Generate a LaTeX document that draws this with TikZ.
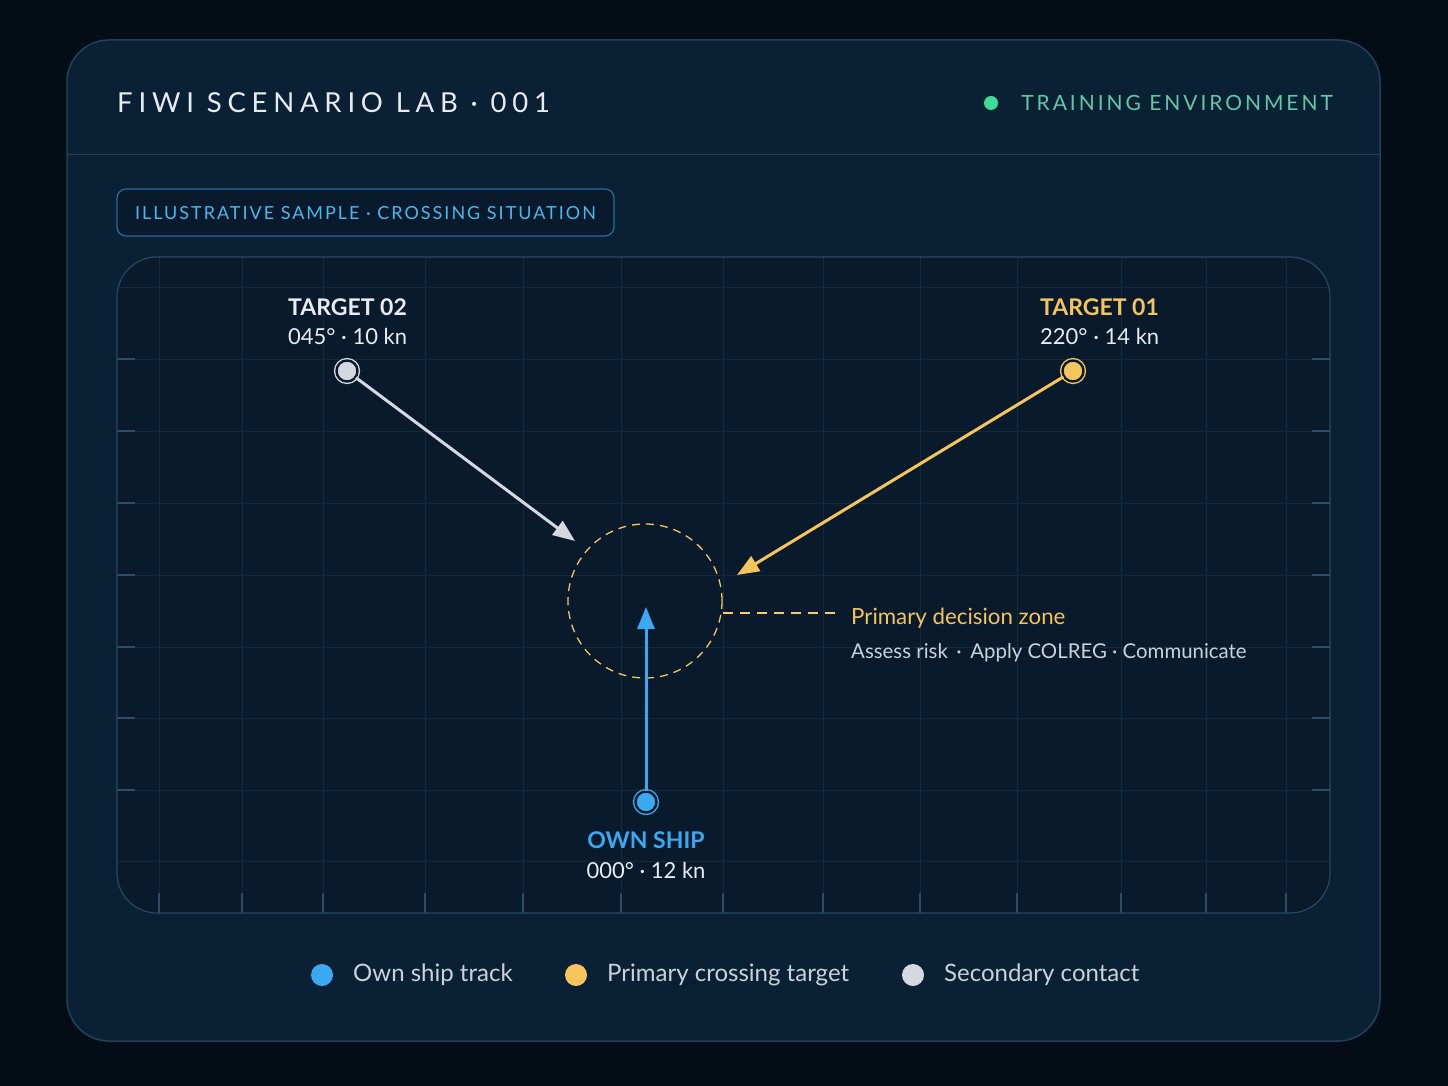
\documentclass[tikz,border=0pt]{standalone}
\usepackage{fontspec}
\setmainfont{Lato}
\usetikzlibrary{arrows.meta}

\definecolor{nightbg}{HTML}{040D16}
\definecolor{cardfill}{HTML}{0A2135}
\definecolor{cardline}{HTML}{21405A}
\definecolor{chartfill}{HTML}{081A2B}
\definecolor{chartline}{HTML}{284861}
\definecolor{gridline}{HTML}{13293D}
\definecolor{gridtick}{HTML}{2D4D66}
\definecolor{owncol}{HTML}{3AA9F2}
\definecolor{primcol}{HTML}{F5C45C}
\definecolor{seccol}{HTML}{D5D9DF}
\definecolor{envcol}{HTML}{62C7A2}
\definecolor{envdot}{HTML}{3DDC97}
\definecolor{badgecol}{HTML}{4DB6EA}
\definecolor{textcol}{HTML}{E8ECF1}
\definecolor{softcol}{HTML}{C9D2DC}

\newcommand{\pxfont}[1]{\fontsize{#1}{#1}\selectfont}

\begin{document}
\begin{tikzpicture}[x=1pt, y=-1pt,
    contact/.style={circle, inner sep=0pt, minimum size=21pt, line width=1.4pt,
      double distance=2.4pt, double=chartfill, draw=#1, fill=#1},
    track/.style={line width=3pt, draw=#1, -{Triangle[length=22pt,width=17pt]}},
    legdot/.style={circle, inner sep=0pt, minimum size=22pt, fill=#1},
    tag/.style={anchor=base west, inner sep=0pt, font=\pxfont{23}\bfseries},
    info/.style={anchor=base west, inner sep=0pt, text=textcol, font=\pxfont{22}},
    legtext/.style={anchor=west, inner sep=0pt, text=softcol, font=\pxfont{24}}]

  % background and card
  \useasboundingbox (0,0) rectangle (1448,1086);
  \fill[nightbg] (0,0) rectangle (1448,1086);
  \draw[cardline, fill=cardfill, line width=1.5pt, rounded corners=42pt] (67,40) rectangle (1380,1041);
  \draw[cardline, line width=1pt] (67,155) -- (1380,155);

  % header
  \node[anchor=base west, inner sep=0pt, text=textcol,
        font=\pxfont{27.5}\addfontfeature{LetterSpace=21}] (title) at (117,113) {FIWI SCENARIO LAB · 001};
  \node[circle, inner sep=0pt, minimum size=14pt, fill=envdot] (envdot) at (991,103) {};
  \node[anchor=base east, inner sep=0pt, text=envcol,
        font=\pxfont{21}\addfontfeature{LetterSpace=14}] (env) at (1333,111) {TRAINING ENVIRONMENT};

  % badge
  \draw[owncol!55!cardfill, fill=chartfill, line width=1.2pt, rounded corners=9pt] (117,189) rectangle (614,236);
  \node[anchor=base west, inner sep=0pt, text=badgecol,
        font=\pxfont{18}\addfontfeature{LetterSpace=11}] (badge) at (135,220) {ILLUSTRATIVE SAMPLE · CROSSING SITUATION};

  % chart area and grid
  \fill[chartfill, rounded corners=40pt] (117,257) rectangle (1330,913);
  \begin{scope}
    \clip[rounded corners=40pt] (117,257) rectangle (1330,913);
    \foreach \gx in {159,242,323,425,523,621,723,823,920,1017,1121,1206,1286} {
      \draw[gridline, line width=1pt] (\gx,257) -- (\gx,913);
      \draw[gridtick, line width=1.2pt] (\gx,893) -- (\gx,913);
    }
    \foreach \gy in {287,359,431,503,575,647,718,790,861} {
      \draw[gridline, line width=1pt] (117,\gy) -- (1330,\gy);
    }
    \foreach \gy in {359,431,503,575,647,718,790} {
      \draw[gridtick, line width=1.2pt] (117,\gy) -- (135,\gy);
      \draw[gridtick, line width=1.2pt] (1312,\gy) -- (1330,\gy);
    }
  \end{scope}
  \draw[chartline, line width=1.2pt, rounded corners=40pt] (117,257) rectangle (1330,913);

  % decision zone
  \node[circle, minimum size=154pt, inner sep=0pt, draw=primcol,
        line width=1.3pt, dash pattern=on 8pt off 6pt] (zone) at (645,601) {};
  \coordinate (lead) at (838,613);
  \draw[primcol!85!white, line width=1.3pt, dash pattern=on 10pt off 7pt] (zone.east |- lead) -- (lead);
  \node[anchor=base west, inner sep=0pt, text=primcol, font=\pxfont{22.3}] (zonetitle) at (851,624) {Primary decision zone};
  \node[anchor=base west, inner sep=0pt, text=softcol, font=\pxfont{20.4}] (zonesub) at (851,658)
       {Assess risk \,·\, Apply COLREG · Communicate};

  % contacts
  \node[contact=seccol] (tgt2) at (347,371) {};
  \node[contact=primcol] (tgt1) at (1073,371) {};
  \node[contact=owncol] (own) at (646,802) {};
  \coordinate (tgt2tip) at (575,541);
  \coordinate (tgt1tip) at (737,575);
  \coordinate (owntip) at (646,607);

  \draw[track=seccol] (tgt2) -- (tgt2tip);
  \draw[track=primcol] (tgt1) -- (tgt1tip);
  \draw[track=owncol] (own) -- (owntip);

  % labels
  \node[tag, text=textcol] (tgt2name) at (288,315) {TARGET 02};
  \node[info] (tgt2data) at (288,344) {045° · 10 kn};
  \node[tag, text=primcol] (tgt1name) at (1040,315) {TARGET 01};
  \node[info] (tgt1data) at (1040,344) {220° · 14 kn};
  \node[tag, anchor=base, text=owncol] (ownname) at (646,848) {OWN SHIP};
  \node[info, anchor=base] (owndata) at (646,878) {000° · 12 kn};

  % legend
  \node[legdot=owncol] (leg1) at (322,975) {};
  \node[legtext] (leg1text) at (353,975) {Own ship track};
  \node[legdot=primcol] (leg2) at (576,975) {};
  \node[legtext] (leg2text) at (607,975) {Primary crossing target};
  \node[legdot=seccol] (leg3) at (913,975) {};
  \node[legtext] (leg3text) at (944,975) {Secondary contact};
\end{tikzpicture}
\end{document}
